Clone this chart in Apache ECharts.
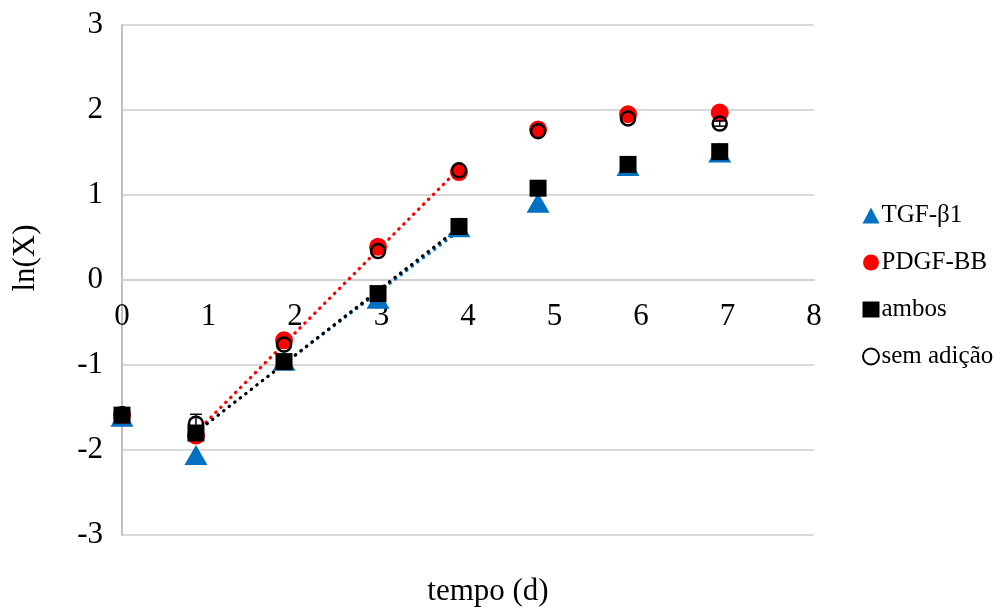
<!DOCTYPE html>
<html>
<head>
<meta charset="utf-8">
<script src="https://cdn.jsdelivr.net/npm/echarts@6/dist/echarts.min.js"></script>
<style>html,body{margin:0;padding:0;background:#fff;}#c{width:1004px;height:612px;}</style>
</head>
<body>
<div id="c"></div>
<script>
// time (days) for each measurement
var days = [0, 0.855, 1.873, 2.96, 3.896, 4.81, 5.85, 6.91];
var tgf   = [-1.61, -2.06, -0.95, -0.22, 0.62, 0.91, 1.34, 1.50];
var pdgf  = [-1.59, -1.83, -0.71, 0.39, 1.27, 1.77, 1.95, 1.97];
var ambos = [-1.59, -1.80, -0.96, -0.16, 0.63, 1.08, 1.36, 1.51];
var sem   = [-1.58, -1.69, -0.76, 0.34, 1.29, 1.75, 1.90, 1.84];
var semErr = [0, 0.11, 0, 0, 0, 0, 0, 0.03];
var xTicks = [0, 1, 2, 3, 4, 5, 6, 7, 8];
var yTicks = [-3, -2, -1, 0, 1, 2, 3];
var names = ['TGF-β1', 'PDGF-BB', 'ambos', 'sem adição'];
// index ranges used for the linear trendlines
var fitTgf = [2, 4], fitPdgf = [1, 4], fitAmbos = [1, 4];

function pairs(ys) { return days.map(function (d, i) { return [d, ys[i]]; }); }
function trend(ys, r) {
  var xs = days.slice(r[0], r[1] + 1), yy = ys.slice(r[0], r[1] + 1);
  var n = xs.length, mx = 0, my = 0;
  for (var i = 0; i < n; i++) { mx += xs[i]; my += yy[i]; }
  mx /= n; my /= n;
  var sxy = 0, sxx = 0;
  for (i = 0; i < n; i++) { sxy += (xs[i] - mx) * (yy[i] - my); sxx += (xs[i] - mx) * (xs[i] - mx); }
  var b = sxy / sxx, a = my - b * mx;
  return [[xs[0], a + b * xs[0]], [xs[n - 1], a + b * xs[n - 1]]];
}

var font = 'Liberation Serif, Times New Roman, serif';
var BLUE = '#0070C0', RED = '#FF0000', BLACK = '#000000';
var dotted = function (c) { return { color: c, width: 3.2, type: [0.5, 6.5], cap: 'round' }; };

var GRID_TOP = 25, GRID_BOTTOM = 77, H = 612;
var plotH = H - GRID_TOP - GRID_BOTTOM;
// offset that moves the x axis from the bottom edge up to y = 0
var zeroOffset = -plotH * (0 - yTicks[0]) / (yTicks[yTicks.length - 1] - yTicks[0]);

var chart = echarts.init(document.getElementById('c'));
chart.setOption({
  animation: false,
  backgroundColor: '#fff',
  grid: { left: 122, right: 190, top: GRID_TOP, bottom: GRID_BOTTOM, containLabel: false },
  xAxis: {
    type: 'value', min: xTicks[0], max: xTicks[xTicks.length - 1], interval: 1,
    position: 'bottom', offset: zeroOffset,
    axisLine: { onZero: false, lineStyle: { color: '#d0d0d0', width: 2 } },
    axisTick: { show: false },
    splitLine: { show: false },
    axisLabel: { color: '#000', fontFamily: font, fontSize: 31, margin: 21 }
  },
  yAxis: {
    type: 'value', min: yTicks[0], max: yTicks[yTicks.length - 1], interval: 1,
    axisLine: { show: true, onZero: false, lineStyle: { color: '#bfbfbf', width: 2 } },
    axisTick: { show: false },
    splitLine: { show: true, lineStyle: { color: '#d9d9d9', width: 2 } },
    axisLabel: { color: '#000', fontFamily: font, fontSize: 31, margin: 19 }
  },
  legend: {
    orient: 'vertical', left: 857, top: 198,
    itemWidth: 17, itemHeight: 16, itemGap: 22,
    textStyle: { fontFamily: font, fontSize: 25, color: '#000', padding: [0, 0, 0, -3] },
    data: names
  },
  graphic: [
    { type: 'text', position: [488, 592], style: { text: 'tempo (d)', font: '31px ' + font, fill: '#000', textAlign: 'center', textVerticalAlign: 'middle' } },
    { type: 'text', position: [26, 258], rotation: Math.PI / 2, style: { text: 'ln(X)', font: '31px ' + font, fill: '#000', textAlign: 'center', textVerticalAlign: 'middle' } }
  ],
  series: [
    { type: 'line', data: trend(tgf, fitTgf), showSymbol: false, symbol: 'none', lineStyle: dotted(BLUE), silent: true, z: 1 },
    { type: 'line', data: trend(pdgf, fitPdgf), showSymbol: false, symbol: 'none', lineStyle: dotted(RED), silent: true, z: 1 },
    { type: 'line', data: trend(ambos, fitAmbos), showSymbol: false, symbol: 'none', lineStyle: dotted(BLACK), silent: true, z: 1 },
    { name: names[0], type: 'scatter', data: pairs(tgf), symbol: 'triangle', symbolSize: [23, 20], itemStyle: { color: BLUE, opacity: 1 }, z: 3 },
    { name: names[1], type: 'scatter', data: pairs(pdgf), symbol: 'circle', symbolSize: 18, itemStyle: { color: RED, opacity: 1 }, z: 3 },
    { name: names[2], type: 'scatter', data: pairs(ambos), symbol: 'rect', symbolSize: 17, itemStyle: { color: BLACK, opacity: 1 }, z: 3 },
    { name: names[3], type: 'scatter', data: pairs(sem), symbol: 'circle', symbolSize: 14, itemStyle: { color: 'rgba(255,255,255,0)', borderColor: BLACK, borderWidth: 2.5, opacity: 1 }, z: 4 },
    {
      type: 'custom', silent: true, z: 5,
      data: days.map(function (d, i) { return [d, sem[i], semErr[i]]; }),
      renderItem: function (params, api) {
        var e = api.value(2);
        if (!e) return;
        var x = api.value(0), y = api.value(1);
        var top = api.coord([x, y + e]), bot = api.coord([x, y - e]);
        var st = { stroke: '#000', lineWidth: 1.5 };
        return { type: 'group', children: [
          { type: 'line', shape: { x1: top[0], y1: top[1], x2: bot[0], y2: bot[1] }, style: st },
          { type: 'line', shape: { x1: top[0] - 6, y1: top[1], x2: top[0] + 6, y2: top[1] }, style: st },
          { type: 'line', shape: { x1: bot[0] - 6, y1: bot[1], x2: bot[0] + 6, y2: bot[1] }, style: st }
        ] };
      }
    }
  ]
});
</script>
</body>
</html>
